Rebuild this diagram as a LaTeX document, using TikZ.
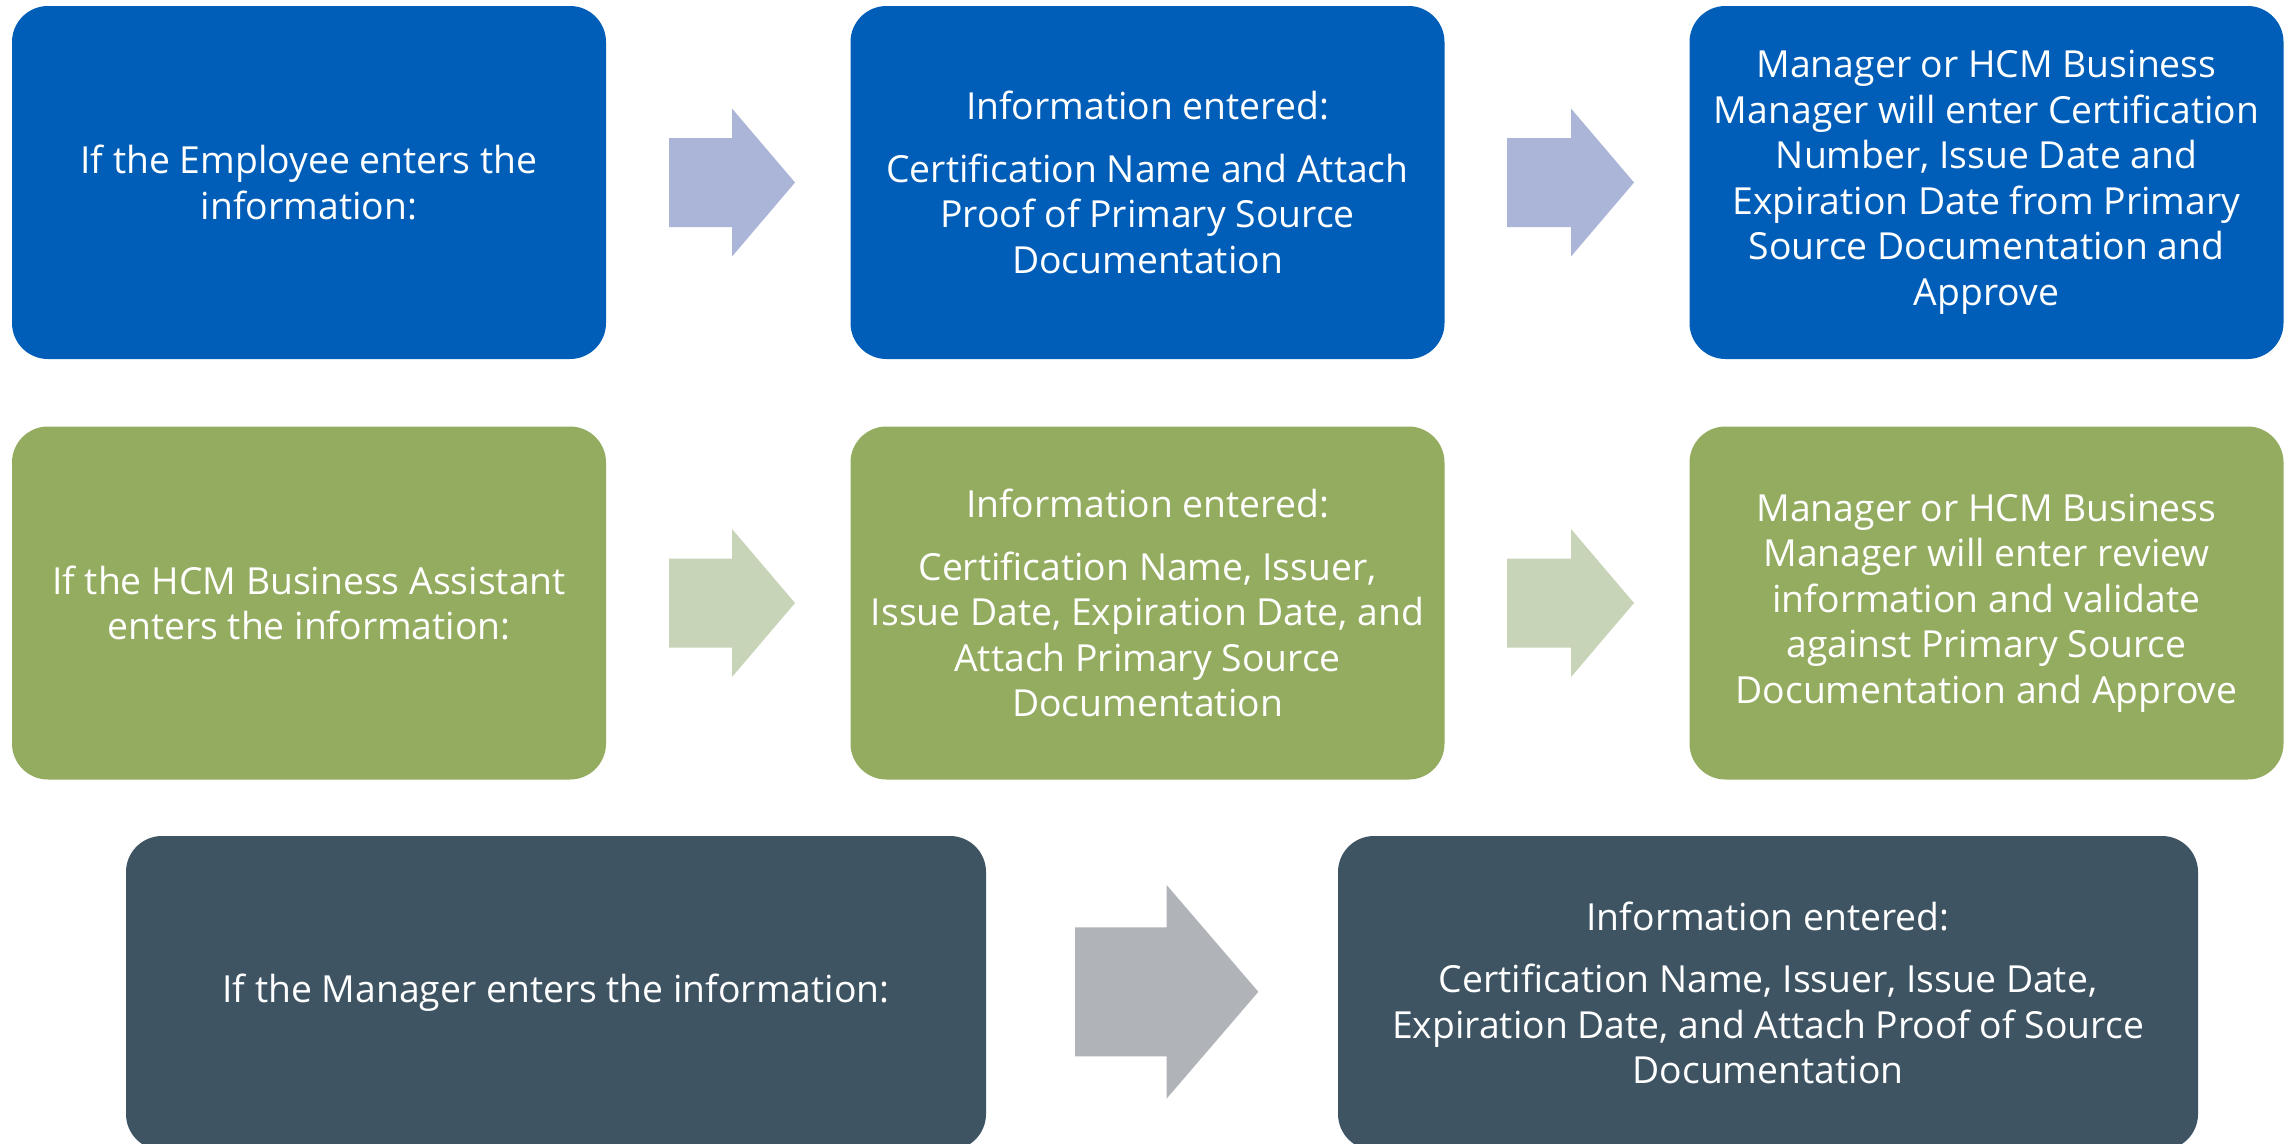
\documentclass[tikz,border=0pt]{standalone}
\usepackage{fontspec}
\setmainfont{Open Sans}

\definecolor{stepblue}{RGB}{0,94,184}
\definecolor{stepgreen}{RGB}{148,172,96}
\definecolor{stepslate}{RGB}{62,84,98}
\definecolor{arrblue}{RGB}{171,181,216}
\definecolor{arrgreen}{RGB}{200,212,184}
\definecolor{arrgray}{RGB}{176,179,184}

\tikzset{
  card/.style={rounded corners=36pt, inner sep=0pt, text=white, align=center,
    font=\fontsize{37.3}{45.5}\selectfont},
  smallcard/.style={card, minimum width=594pt, minimum height=353pt},
  widecard/.style={card, minimum width=860pt, minimum height=314pt},
}

% block arrow: colour, left x, centre y, head base x, tip x, shaft half height, head half height
\newcommand\blockarrow[7]{%
  \fill[#1] (#2,{#3-#6}) -- (#4,{#3-#6}) -- (#4,{#3-#7}) -- (#5,#3)
    -- (#4,{#3+#7}) -- (#4,{#3+#6}) -- (#2,{#3+#6}) -- cycle;}

\begin{document}
\begin{tikzpicture}[x=1pt,y=-1pt]
  \useasboundingbox (0,0) rectangle (2290,1143);
  \fill[white] (0,0) rectangle (2290,1143);

  % Employee path
  \node[smallcard, fill=stepblue] (emp) at (309,182.5)
    {If the Employee enters the\\information:};
  \node[smallcard, fill=stepblue] (empinfo) at (1147.5,182.5)
    {Information entered:\\[17pt]Certification Name and Attach\\Proof of Primary Source\\Documentation};
  \node[smallcard, fill=stepblue] (empappr) at (1986.5,182.5)
    {Manager or HCM Business\\Manager will enter Certification\\Number, Issue Date and\\Expiration Date from Primary\\Source Documentation and\\Approve};
  \blockarrow{arrblue}{669}{182.5}{732}{795}{44.5}{74}
  \blockarrow{arrblue}{1507}{182.5}{1571}{1634}{44.5}{74}

  % HCM Business Assistant path
  \node[smallcard, fill=stepgreen] (hba) at (309,603)
    {If the HCM Business Assistant\\enters the information:};
  \node[smallcard, fill=stepgreen] (hbainfo) at (1147.5,603)
    {Information entered:\\[17pt]Certification Name, Issuer,\\Issue Date, Expiration Date, and\\Attach Primary Source\\Documentation};
  \node[smallcard, fill=stepgreen] (hbaappr) at (1986.5,603)
    {Manager or HCM Business\\Manager will enter review\\information and validate\\against Primary Source\\Documentation and Approve};
  \blockarrow{arrgreen}{669}{603}{732}{795}{44.5}{74}
  \blockarrow{arrgreen}{1507}{603}{1571}{1634}{44.5}{74}

  % Manager path
  \node[widecard, fill=stepslate] (mgr) at (556,993)
    {If the Manager enters the information:};
  \node[widecard, fill=stepslate] (mgrinfo) at (1768,993)
    {Information entered:\\[17pt]Certification Name, Issuer, Issue Date,\\Expiration Date, and Attach Proof of Source\\Documentation};
  \blockarrow{arrgray}{1075}{991.8}{1166.7}{1258.3}{64.5}{106.7}
\end{tikzpicture}
\end{document}
